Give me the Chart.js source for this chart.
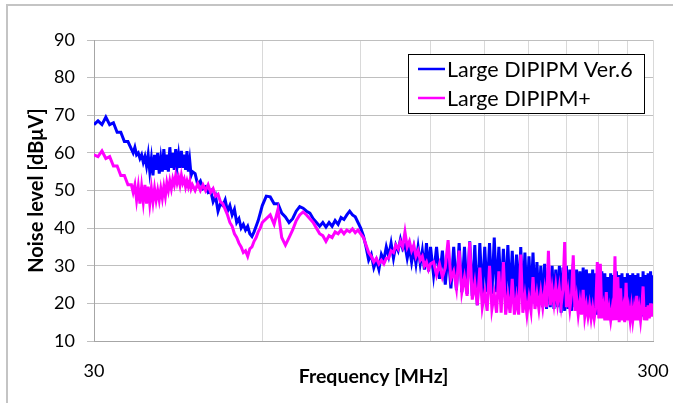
<!DOCTYPE html>
<html>
<head>
<meta charset="utf-8">
<script src="https://cdn.jsdelivr.net/npm/chart.js@4.4.1/dist/chart.umd.min.js"></script>
<style>
  html, body { margin: 0; padding: 0; background: #fff; overflow: hidden; }
  #wrap { position: relative; width: 673px; height: 403px; }
  #frame { position: absolute; left: 6px; top: 4px; width: 720px; height: 450px; border: 2px solid #c4c4c4; box-sizing: border-box; pointer-events: none; }
  canvas { position: absolute; left: 0; top: 0; }
</style>
</head>
<body>
<div id="wrap">
  <canvas id="c" width="673" height="403"></canvas>
  <div id="frame"></div>
</div>
<script>
// Frequencies (MHz) of the sampled points
const freqMHz = [
  30, 30.5, 31, 31.5, 32, 32.5, 33, 33.5, 34, 34.5,
  35, 35.25, 35.5, 35.75, 36, 36.25, 36.5, 36.75, 37, 37.25,
  37.5, 37.75, 38, 38.25, 38.5, 38.75, 39, 39.25, 39.5, 39.75,
  40, 40.25, 40.5, 40.75, 41, 41.25, 41.5, 41.75, 42, 42.25,
  42.5, 42.75, 43, 43.25, 43.5, 43.75, 44, 44.25, 44.5, 44.75,
  45,
  45.5, 46, 46.5, 47, 47.5, 48, 48.5, 49, 49.5, 50,
  50.5, 51, 51.5, 52, 52.5, 53, 53.5, 54, 54.5, 55,
  55.5, 56, 56.5, 57, 57.5, 58, 58.5, 59, 59.5, 60,
  61, 62, 63, 64, 65, 66, 67, 68, 69, 70,
  71, 72, 73, 74, 75, 76, 77, 78, 79, 80,
  81, 82, 83, 84, 85, 86, 87, 88, 89, 90,
  91, 92, 93, 94, 95, 96, 97, 98, 99, 100,
  101, 102, 103, 104, 105, 106, 107, 108, 109, 110,
  111, 112, 113, 114, 115, 116, 117, 118, 119, 120,
  121.5, 123, 124.5, 126, 127.5, 129, 130.5, 132, 133.5, 135,
  136.5, 138, 139.5, 141, 142.5, 144, 145.5, 147, 148.5, 150,
  151.5, 153, 154.5, 156, 157.5, 159, 160.5, 162, 163.5, 165,
  166.5, 168, 169.5, 171, 172.5, 174, 175.5, 177, 178.5, 180,
  181.5, 183, 184.5, 186, 187.5, 189, 190.5, 192, 193.5, 195,
  196.5, 198, 199.5, 201, 202.5, 204, 205.5, 207, 208.5, 210,
  211.5, 213, 214.5, 216, 217.5, 219, 220.5, 222, 223.5, 225,
  226.5, 228, 229.5, 231, 232.5, 234, 235.5, 237, 238.5, 240,
  241.5, 243, 244.5, 246, 247.5, 249, 250.5, 252, 253.5, 255,
  256.5, 258, 259.5, 261, 262.5, 264, 265.5, 267, 268.5, 270,
  271.5, 273, 274.5, 276, 277.5, 279, 280.5, 282, 283.5, 285,
  286.5, 288, 289.5, 291, 292.5, 294, 295.5, 297, 298.5, 300
];

// Noise level [dBuV] – Large DIPIPM Ver.6
const ver6 = [
  67.5, 68.5, 67.5, 69.5, 67.5, 68, 65.5, 65.5, 63, 63,
  61, 60, 61.5, 59.5, 60, 58.5, 59.5, 57.5, 59, 56.5,
  59.5, 55, 58.5, 54, 59.5, 55.5, 60, 54.5, 58.5, 55,
  61, 55.5, 59.5, 55, 61.5, 56, 60, 55.5, 61, 56.5,
  59.5, 56, 60.5, 56, 59.5, 55.5, 60.5, 55, 58, 54,
  55,
  54.5, 51.5, 52.5, 50.5, 51, 49.5, 50, 47, 48.5, 44.5,
  46.5, 46, 47.5, 44.5, 46, 43.5, 45, 41.5, 42.5, 40,
  41, 39.5, 40.5, 38.5, 37.8, 39, 40.5, 42, 44, 46,
  48.5, 48.3, 46.5, 46.5, 44, 43, 41.5, 42.5, 44.5, 45.7,
  45.3, 44.5, 44, 42.5, 41.5, 40.5, 41.5, 40.3, 41.5, 40.5,
  42, 41, 42.8, 42.3, 43.5, 44.5, 43.5, 43, 41.5, 40,
  38, 35, 31.5, 33, 29.5, 31.5, 29, 33, 31.5, 35,
  32.5, 36, 32, 35.5, 34, 37, 34.5, 35.5, 32, 35,
  31, 34.5, 30.5, 35, 30.5, 34, 29, 36, 28.5, 35,
  27.5, 35, 26.5, 34, 25, 33.5, 24, 35, 23.5, 36,
  23, 35, 22.5, 36.5, 22, 35.5, 19.5, 36, 22, 35,
  23, 36, 22.5, 37.5, 23, 35, 22.5, 34.5, 22, 35.5,
  21.5, 34, 21, 33, 21.5, 35, 20.5, 33.5, 20, 32.5,
  20.5, 33.5, 20, 31, 19.5, 30, 19, 30.5, 18.5, 29.5,
  19, 30, 18.5, 29, 19, 30, 17.5, 29.5, 18, 30,
  18.5, 29, 18, 30.5, 19, 29, 18.5, 28.5, 17.5, 29.5,
  18, 29, 17.5, 28, 17, 29, 17.5, 28, 17, 27.5,
  16.5, 28.5, 17, 28, 17, 27, 16.5, 28, 17, 27.5,
  16.5, 28.5, 17, 27.5, 16.5, 28, 17, 27, 16.5, 28,
  17, 27.5, 16.5, 28, 17, 27.5, 16.5, 28, 17, 27,
  16.5, 28.5, 17, 27.5, 17.5, 28, 17, 28.5, 18, 27.5
];

// Noise level [dBuV] – Large DIPIPM+
const plus = [
  59.5, 59, 60.5, 58.5, 59, 56.5, 56.5, 54, 54, 51.5,
  51.5, 49.5, 51.5, 47.5, 51, 46.5, 51, 47, 51.5, 46.5,
  51, 46.5, 50.5, 47, 50.5, 47.5, 50, 47.5, 50.5, 48,
  51, 48.5, 52, 50, 52.5, 50.5, 53, 51.5, 54, 52,
  53.5, 51.5, 54, 52, 53, 51, 52.5, 51, 52.5, 50.5,
  51.5,
  50, 51.8, 50, 51.5, 50, 51.5, 49.5, 50.5, 48.5, 49,
  47, 46.5, 45, 43.5, 41.5, 40.5, 38.5, 37.5, 36, 35,
  33.5, 34, 32.5, 34.5, 35, 36.5, 37.5, 39, 40, 41.5,
  42.5, 43.5, 41, 45, 37.5, 35.5, 37.5, 39.5, 42, 43.5,
  44.3, 43.5, 42.5, 41.5, 40, 38.5, 38, 36.5, 38, 37.5,
  39, 38.5, 39.5, 38.5, 39.5, 39, 39.8, 38.8, 39.5, 38.5,
  37.5, 35.5, 33.5, 32.5, 31, 32, 30.5, 31.5, 30.5, 32,
  32, 34, 33.5, 35.5, 34.5, 36.5, 35, 39, 35, 36.5,
  34, 35.5, 32.5, 34, 31.5, 32.5, 30, 31, 29, 30.5,
  31, 27.5, 30.5, 27, 29.5, 36.8, 26.5, 28.5, 24, 34,
  23, 27, 22, 36.3, 21, 25.5, 19.5, 29.5, 19, 23,
  18, 30, 18.5, 22.5, 17.5, 28.5, 17.5, 31, 17, 22,
  17.5, 26.5, 17, 21.5, 17, 33, 17.5, 22, 17, 21.5,
  18, 27, 18.5, 22.5, 18.5, 23, 19, 23.5, 19, 34,
  19.5, 24, 20, 24.5, 20, 24, 19.5, 23.5, 36.3, 19,
  23, 18.5, 22.5, 32.8, 18, 21.5, 17, 20.5, 17, 23.6,
  16.5, 19.5, 16.5, 19.5, 16, 19, 16, 19, 31, 16,
  30.5, 16, 19, 15.5, 23, 15.5, 18.5, 15.5, 18.5, 15.5,
  32.5, 15.5, 27, 15, 24, 15.5, 18.5, 15, 25.5, 15.5,
  18.5, 15.5, 19, 15.5, 18.5, 15.5, 22, 15.5, 18.5, 15.5,
  19, 24.5, 15.5, 19, 15.5, 19.5, 16, 20, 16.5, 20
];

const seriesNames = ['Large DIPIPM Ver.6', 'Large DIPIPM+'];
const seriesColors = ['#0000ff', '#ff00ff'];
const xGridValues = [30, 60, 90, 120, 150, 180, 210, 240, 270, 300];
const xLabelValues = [30, 300];
const yTickValues = [10, 20, 30, 40, 50, 60, 70, 80, 90];
const xTitle = 'Frequency [MHz]';
const yTitle = 'Noise level [dBμV]';

const FONT = 'Lato';

const legendBox = {
  id: 'legendBox',
  afterDatasetsDraw(chart) {
    const { ctx, chartArea } = chart;
    const ds = chart.data.datasets;
    ctx.save();
    ctx.font = '21.5px ' + FONT;
    const tw = Math.max(...ds.map(d => ctx.measureText(d.label).width));
    const w = Math.round(39 + tw + 11), h = 59;
    const right = Math.round(chartArea.right) - 9, top = Math.round(chartArea.top) + 14;
    const left = right - w;
    ctx.fillStyle = '#ffffff';
    ctx.fillRect(left, top, w, h);
    ctx.strokeStyle = '#000000';
    ctx.lineWidth = 1;
    ctx.strokeRect(left + 0.5, top + 0.5, w, h);
    ds.forEach((d, i) => {
      const y = top + 15 + i * 29;
      ctx.strokeStyle = d.borderColor;
      ctx.lineWidth = 2.5;
      ctx.beginPath();
      ctx.moveTo(left + 10, y);
      ctx.lineTo(left + 37, y);
      ctx.stroke();
      ctx.fillStyle = '#000000';
      ctx.textBaseline = 'middle';
      ctx.textAlign = 'left';
      ctx.fillText(d.label, left + 39, y + 1);
    });
    ctx.restore();
  }
};

new Chart(document.getElementById('c'), {
  type: 'line',
  data: {
    datasets: [
      {
        label: seriesNames[0],
        data: freqMHz.map((f, i) => ({ x: f, y: ver6[i] })),
        borderColor: seriesColors[0],
        backgroundColor: seriesColors[0],
        borderWidth: 3,
        pointRadius: 0,
        tension: 0,
        order: 1
      },
      {
        label: seriesNames[1],
        data: freqMHz.map((f, i) => ({ x: f, y: plus[i] })),
        borderColor: seriesColors[1],
        backgroundColor: seriesColors[1],
        borderWidth: 3,
        pointRadius: 0,
        tension: 0,
        order: 0
      }
    ]
  },
  options: {
    responsive: false,
    animation: false,
    devicePixelRatio: 1,
    layout: { padding: { left: 0, top: 40, right: 20, bottom: 0 } },
    plugins: {
      legend: { display: false },
      tooltip: { enabled: false }
    },
    scales: {
      x: {
        type: 'logarithmic',
        min: 30,
        max: 300,
        afterBuildTicks: s => { s.ticks = xGridValues.map(v => ({ value: v })); },
        afterFit: s => { s.height = 62; s.paddingLeft = 0; s.paddingRight = 0; },
        ticks: {
          autoSkip: false,
          maxRotation: 0,
          minRotation: 0,
          padding: 19,
          color: '#000',
          font: { family: FONT, size: 18 },
          callback: v => xLabelValues.includes(v) ? String(v) : ''
        },
        grid: {
          color: c => (c.tick && xGridValues.includes(c.tick.value)) ? '#d9d9d9' : 'rgba(0,0,0,0)',
          drawTicks: false,
          lineWidth: 1
        },
        border: { color: '#a6a6a6', width: 1 },
        title: {
          display: true,
          text: xTitle,
          color: '#000',
          font: { family: FONT, size: 19.5, weight: 'bold' },
          padding: { top: 0, bottom: 14.6 }
        }
      },
      y: {
        min: 10,
        max: 90,
        afterBuildTicks: s => { s.ticks = yTickValues.map(v => ({ value: v })); },
        afterFit: s => { s.width = 94; s.paddingTop = 0; s.paddingBottom = 0; },
        ticks: {
          padding: 12,
          color: '#000',
          font: { family: FONT, size: 18 }
        },
        grid: { color: '#bfbfbf', tickLength: 7, lineWidth: 1 },
        border: { color: '#a6a6a6', width: 1 },
        title: {
          display: true,
          text: yTitle,
          color: '#000',
          font: { family: FONT, size: 20, weight: 'bold' },
          padding: { top: 25, bottom: 0 }
        }
      }
    }
  },
  plugins: [legendBox]
});
</script>
</body>
</html>
